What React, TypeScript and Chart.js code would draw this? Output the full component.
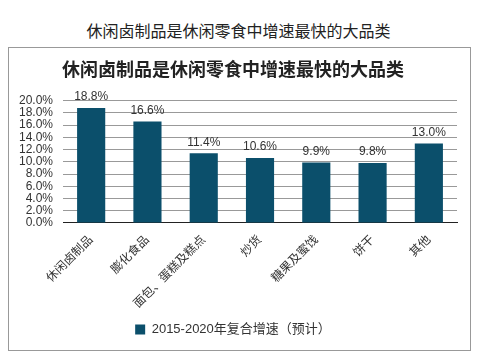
import React, { useEffect, useRef } from "react";
import { Chart, registerables } from "chart.js";

Chart.register(...registerables);

const categories = ["休闲卤制品", "膨化食品", "面包、蛋糕及糕点", "炒货", "糖果及蜜饯", "饼干", "其他"];
const growth = [18.8, 16.6, 11.4, 10.6, 9.9, 9.8, 13.0];
const seriesName = "2015-2020年复合增速（预计）";
const outerTitle = "休闲卤制品是休闲零食中增速最快的大品类";
const innerTitle = "休闲卤制品是休闲零食中增速最快的大品类";

const FONT = "'Liberation Sans', 'Noto Sans CJK SC', sans-serif";
const BAR = "#0b4f6b";

const labelPlugin = {
  id: "barLabels",
  afterDatasetsDraw(chart: any) {
    const ctx = chart.ctx;
    const meta = chart.getDatasetMeta(0);
    ctx.save();
    ctx.font = `12px ${FONT}`;
    ctx.fillStyle = "#333";
    ctx.textAlign = "center";
    ctx.textBaseline = "bottom";
    meta.data.forEach((el: any, i: number) => {
      ctx.fillText(growth[i].toFixed(1) + "%", el.x, el.y - 5);
    });
    ctx.restore();
  },
};

export default function App() {
  const ref = useRef<HTMLCanvasElement>(null);
  useEffect(() => {
    const chart = new Chart(ref.current!, {
      type: "bar",
      data: {
        labels: categories,
        datasets: [
          {
            label: seriesName,
            data: growth,
            backgroundColor: BAR,
            barPercentage: 0.5,
            categoryPercentage: 1,
          },
        ],
      },
      options: {
        animation: false,
        responsive: false,
        layout: { padding: { left: 0, right: 13, top: 0, bottom: 4 } },
        plugins: {
          title: {
            display: true,
            text: innerTitle,
            color: "#222",
            font: { family: FONT, size: 18, weight: "bold" },
            padding: { top: 12, bottom: 19 },
          },
          legend: {
            position: "bottom",
            labels: {
              boxWidth: 10,
              boxHeight: 10,
              color: "#333",
              font: { family: FONT, size: 13 },
              padding: 10,
            },
          },
          tooltip: { enabled: false },
        },
        scales: {
          x: {
            grid: { display: false },
            border: { display: true, color: "#222", width: 1 },
            ticks: {
              color: "#333",
              font: { family: FONT, size: 12 },
              maxRotation: 45,
              minRotation: 45,
              padding: 2,
            },
          },
          y: {
            min: 0,
            max: 20,
            grid: { color: "#999", drawTicks: false },
            border: { display: false },
            ticks: {
              stepSize: 2,
              autoSkip: false,
              color: "#333",
              font: { family: FONT, size: 12 },
              padding: 10,
              callback: (v: any) => Number(v).toFixed(1) + "%",
            },
          },
        },
      },
      plugins: [labelPlugin],
    });
    return () => chart.destroy();
  }, []);

  return (
    <div style={{ position: "fixed", left: 0, top: 0, width: 477, height: 358, background: "#fff" }}>
      <div
        style={{
          position: "absolute",
          left: 0,
          top: 19,
          width: 477,
          textAlign: "center",
          fontFamily: "'Noto Sans CJK SC', sans-serif",
          fontSize: 16,
          lineHeight: "22px",
          color: "#222",
        }}
      >
        {outerTitle}
      </div>
      <div
        style={{
          position: "absolute",
          left: 8,
          top: 47,
          width: 461,
          height: 302,
          border: "1px solid #999",
          boxSizing: "content-box",
        }}
      >
        <canvas ref={ref} width={461} height={302} style={{ display: "block" }} />
      </div>
    </div>
  );
}
